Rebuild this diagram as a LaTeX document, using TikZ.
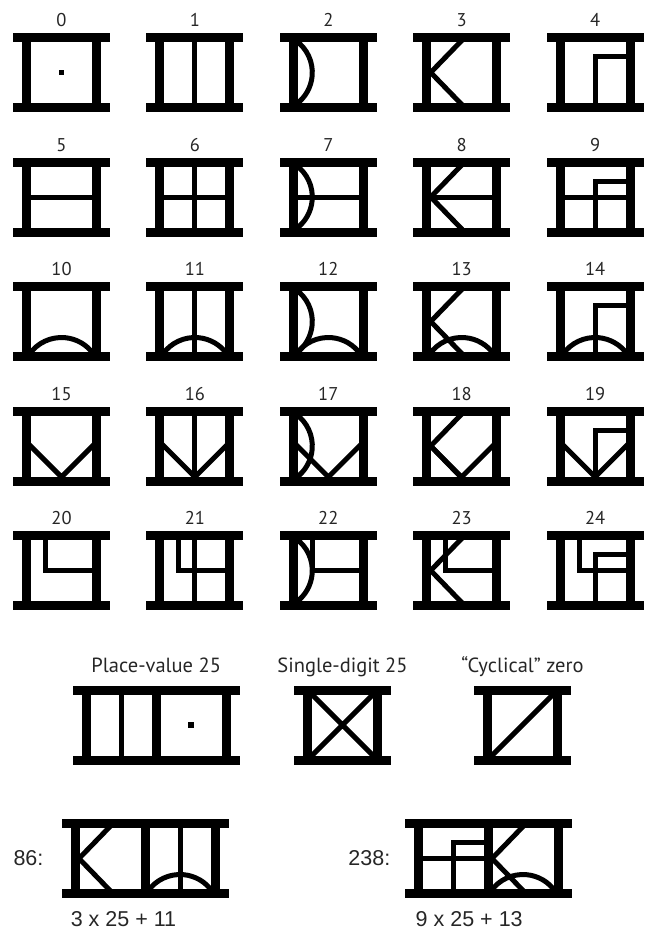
\documentclass[tikz,border=0pt]{standalone}
\usepackage{fontspec}
\setsansfont{PT Sans}
\newfontfamily\arialfont{Liberation Sans}
\tikzset{
  stroke/.style={line width=5pt},
  num/.style={font=\sffamily\fontsize{18.5}{18.5}\selectfont, text=black!85, anchor=base, inner sep=0pt},
  caption/.style={font=\sffamily\fontsize{20.5}{20.5}\selectfont, text=black!85, anchor=base, inner sep=0pt},
  sumtext/.style={font=\arialfont\fontsize{21.5}{21.5}\selectfont, text=black!85, inner sep=0pt},
  % frame of one glyph: two posts, two bars
  pics/frame/.style={code={
    \fill (-39.5,-30.5) rectangle (-30.5,30.5);
    \fill (30.5,-30.5) rectangle (39.5,30.5);
    \fill (-48.5,30.5) rectangle (48.5,39.5);
    \fill (-48.5,-39.5) rectangle (48.5,-30.5);
  }},
  pics/dot/.style={code={\fill (-2.6,-2.6) rectangle (2.6,2.6);}},
  pics/one/.style={code={\draw[stroke] (0,-33) -- (0,33);}},
  pics/two/.style={code={\draw[stroke] (-55.3,0) ++(55:39.3) arc[start angle=55, end angle=-55, radius=39.3];}},
  pics/three/.style={code={\draw[stroke] (1,33) -- (-31,0) -- (1,-33);}},
  pics/four/.style={code={\draw[stroke] (0,-33) -- (0,16) -- (33,16);}},
  pics/five/.style={code={\draw[stroke] (-33,0) -- (33,0);}},
  pics/ten/.style={code={\draw[stroke] (0,-55.3) ++(145:39.3) arc[start angle=145, end angle=35, radius=39.3];}},
  pics/fifteen/.style={code={\draw[stroke] (-33,2) -- (0,-31) -- (33,2);}},
  pics/twenty/.style={code={\draw[stroke] (-16,33) -- (-16,0) -- (33,0);}},
}
\begin{document}
\begin{tikzpicture}[x=1pt, y=1pt]
  \useasboundingbox (0,0) rectangle (648,-935);

  % row 0--4
  \node[num] (n0) at (61.5,-26.7) {0};   \pic at (61.5,-72.5) {dot};   \pic at (61.5,-72.5) {frame};
  \node[num] (n1) at (194.9,-26.7) {1};  \pic at (194.9,-72.5) {one};  \pic at (194.9,-72.5) {frame};
  \node[num] (n2) at (328.3,-26.7) {2};  \pic at (328.3,-72.5) {two};  \pic at (328.3,-72.5) {frame};
  \node[num] (n3) at (461.7,-26.7) {3};  \pic at (461.7,-72.5) {three}; \pic at (461.7,-72.5) {frame};
  \node[num] (n4) at (595.1,-26.7) {4};  \pic at (595.1,-72.5) {four}; \pic at (595.1,-72.5) {frame};

  % row 5--9
  \node[num] (n5) at (61.5,-151.2) {5};  \pic at (61.5,-197) {five};  \pic at (61.5,-197) {frame};
  \node[num] (n6) at (194.9,-151.2) {6}; \pic at (194.9,-197) {five}; \pic at (194.9,-197) {one};   \pic at (194.9,-197) {frame};
  \node[num] (n7) at (328.3,-151.2) {7}; \pic at (328.3,-197) {five}; \pic at (328.3,-197) {two};   \pic at (328.3,-197) {frame};
  \node[num] (n8) at (461.7,-151.2) {8}; \pic at (461.7,-197) {five}; \pic at (461.7,-197) {three}; \pic at (461.7,-197) {frame};
  \node[num] (n9) at (595.1,-151.2) {9}; \pic at (595.1,-197) {five}; \pic at (595.1,-197) {four};  \pic at (595.1,-197) {frame};

  % row 10--14
  \node[num] (n10) at (61.5,-275.7) {10};  \pic at (61.5,-321.5) {ten};  \pic at (61.5,-321.5) {frame};
  \node[num] (n11) at (194.9,-275.7) {11}; \pic at (194.9,-321.5) {ten}; \pic at (194.9,-321.5) {one};   \pic at (194.9,-321.5) {frame};
  \node[num] (n12) at (328.3,-275.7) {12}; \pic at (328.3,-321.5) {ten}; \pic at (328.3,-321.5) {two};   \pic at (328.3,-321.5) {frame};
  \node[num] (n13) at (461.7,-275.7) {13}; \pic at (461.7,-321.5) {ten}; \pic at (461.7,-321.5) {three}; \pic at (461.7,-321.5) {frame};
  \node[num] (n14) at (595.1,-275.7) {14}; \pic at (595.1,-321.5) {ten}; \pic at (595.1,-321.5) {four};  \pic at (595.1,-321.5) {frame};

  % row 15--19
  \node[num] (n15) at (61.5,-400.2) {15};  \pic at (61.5,-446) {fifteen};  \pic at (61.5,-446) {frame};
  \node[num] (n16) at (194.9,-400.2) {16}; \pic at (194.9,-446) {fifteen}; \pic at (194.9,-446) {one};   \pic at (194.9,-446) {frame};
  \node[num] (n17) at (328.3,-400.2) {17}; \pic at (328.3,-446) {fifteen}; \pic at (328.3,-446) {two};   \pic at (328.3,-446) {frame};
  \node[num] (n18) at (461.7,-400.2) {18}; \pic at (461.7,-446) {fifteen}; \pic at (461.7,-446) {three}; \pic at (461.7,-446) {frame};
  \node[num] (n19) at (595.1,-400.2) {19}; \pic at (595.1,-446) {fifteen}; \pic at (595.1,-446) {four};  \pic at (595.1,-446) {frame};

  % row 20--24
  \node[num] (n20) at (61.5,-524.7) {20};  \pic at (61.5,-570.5) {twenty};  \pic at (61.5,-570.5) {frame};
  \node[num] (n21) at (194.9,-524.7) {21}; \pic at (194.9,-570.5) {twenty}; \pic at (194.9,-570.5) {one};   \pic at (194.9,-570.5) {frame};
  \node[num] (n22) at (328.3,-524.7) {22}; \pic at (328.3,-570.5) {twenty}; \pic at (328.3,-570.5) {two};   \pic at (328.3,-570.5) {frame};
  \node[num] (n23) at (461.7,-524.7) {23}; \pic at (461.7,-570.5) {twenty}; \pic at (461.7,-570.5) {three}; \pic at (461.7,-570.5) {frame};
  \node[num] (n24) at (595.1,-524.7) {24}; \pic at (595.1,-570.5) {twenty}; \pic at (595.1,-570.5) {four};  \pic at (595.1,-570.5) {frame};

  % twenty-five and zero
  \node[caption] (placeval) at (156.2,-672) {Place-value 25};
  \pic at (121,-725) {one}; \pic at (121,-725) {frame};
  \pic at (191,-725) {dot}; \pic at (191,-725) {frame};
  \node[caption] (single) at (342.5,-672) {Single-digit 25};
  \draw[stroke] (309.5,-758) -- (375.5,-692) (309.5,-692) -- (375.5,-758);
  \pic at (342.5,-725) {frame};
  \node[caption] (cyclic) at (522.5,-672) {“Cyclical” zero};
  \draw[stroke] (489.5,-758) -- (555.5,-692);
  \pic at (522.5,-725) {frame};

  % examples
  \node[sumtext, anchor=east] (n86) at (43.6,-858.5) {86:};
  \pic at (110,-858.5) {three}; \pic at (110,-858.5) {frame};
  \pic at (180,-858.5) {ten}; \pic at (180,-858.5) {one}; \pic at (180,-858.5) {frame};
  \node[sumtext, anchor=base west] (s86) at (70.6,-926.7) {3 x 25 + 11};
  \node[sumtext, anchor=east] (n238) at (390.5,-858.5) {238:};
  \pic at (453,-858.5) {five}; \pic at (453,-858.5) {four}; \pic at (453,-858.5) {frame};
  \pic at (523,-858.5) {ten}; \pic at (523,-858.5) {three}; \pic at (523,-858.5) {frame};
  \node[sumtext, anchor=base west] (s238) at (415.5,-926.7) {9 x 25 + 13};
\end{tikzpicture}
\end{document}
